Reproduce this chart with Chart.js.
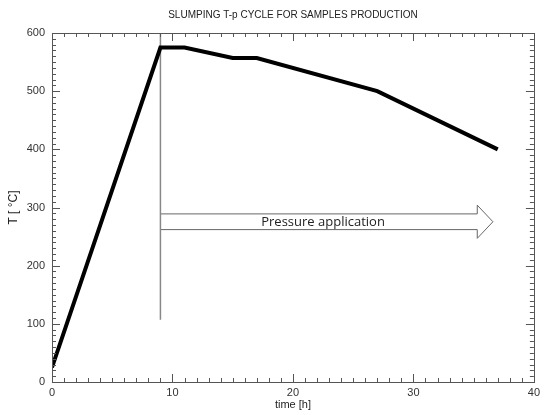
<!DOCTYPE html>
<html>
<head>
<meta charset="utf-8">
<script src="https://cdn.jsdelivr.net/npm/chart.js@4.4.1/dist/chart.umd.min.js"></script>
<style>
html,body{margin:0;padding:0;background:#fff;}
#wrap{width:544px;height:415px;position:relative;}
</style>
</head>
<body>
<div id="wrap"><canvas id="c" width="544" height="415"></canvas></div>
<script>
// ---- data ----
const timeH = [0, 9, 11, 15, 17, 27, 37];
const tempC = [25, 575, 575, 557, 557, 500, 400];
const pressureLineX = [9, 9];
const pressureLineY = [600, 107];
const arrowX = [9, 35.3, 35.3, 36.6, 35.3, 35.3, 9];
const arrowY = [289, 289, 304, 275.5, 247, 262, 262];
const arrowLabel = "Pressure application";
const arrowLabelPos = [22.5, 275];
const xTickLabels = [0, 10, 20, 30, 40];
const yTickLabels = [0, 100, 200, 300, 400, 500, 600];
const chartTitle = "SLUMPING T-p CYCLE FOR SAMPLES PRODUCTION";
const xTitle = "time [h]";
const yTitle = "T [ \u00B0C]";

const decor = {
  id: 'decor',
  beforeDatasetsDraw(chart) {
    const {ctx, chartArea: a, scales: {x, y}} = chart;
    ctx.save();
    // arrow (hollow)
    ctx.beginPath();
    arrowX.forEach((v, i) => {
      const px = x.getPixelForValue(v), py = y.getPixelForValue(arrowY[i]);
      if (i === 0) ctx.moveTo(px, py); else ctx.lineTo(px, py);
    });
    ctx.fillStyle = '#fff';
    ctx.fill();
    ctx.strokeStyle = '#666';
    ctx.lineWidth = 1;
    ctx.stroke();
    ctx.fillStyle = '#222';
    ctx.font = '13px "Open Sans", "Liberation Sans", sans-serif';
    ctx.textAlign = 'center';
    ctx.textBaseline = 'middle';
    ctx.fillText(arrowLabel, x.getPixelForValue(arrowLabelPos[0]), y.getPixelForValue(arrowLabelPos[1]));
    ctx.restore();
  },
  afterDraw(chart) {
    const {ctx, chartArea: a, scales: {x, y}} = chart;
    ctx.save();
    ctx.strokeStyle = '#555';
    ctx.lineWidth = 1;
    // box
    ctx.strokeRect(Math.round(a.left) + 0.5, Math.round(a.top) + 0.5, Math.round(a.right - a.left), Math.round(a.bottom - a.top));
    // x ticks (bottom and top)
    for (let v = 0; v <= 40; v += 1) {
      const px = Math.round(x.getPixelForValue(v)) + 0.5;
      const len = v % 10 === 0 ? 8 : 4;
      ctx.beginPath();
      ctx.moveTo(px, a.bottom); ctx.lineTo(px, a.bottom - len);
      ctx.moveTo(px, a.top); ctx.lineTo(px, a.top + len);
      ctx.stroke();
    }
    for (let v = 0; v <= 600; v += 10) {
      const py = Math.round(y.getPixelForValue(v)) + 0.5;
      const len = v % 100 === 0 ? 8 : 4;
      ctx.beginPath();
      ctx.moveTo(a.left, py); ctx.lineTo(a.left + len, py);
      ctx.moveTo(a.right, py); ctx.lineTo(a.right - len, py);
      ctx.stroke();
    }
    // titles
    ctx.fillStyle = '#222';
    ctx.font = '10px "Liberation Sans", Arial, sans-serif';
    ctx.textAlign = 'center';
    ctx.textBaseline = 'middle';
    ctx.fillText(chartTitle, (a.left + a.right) / 2, 15);
    ctx.font = '11px "Liberation Sans", Arial, sans-serif';
    ctx.fillText(xTitle, (a.left + a.right) / 2, 405);
    ctx.translate(14, (a.top + a.bottom) / 2);
    ctx.rotate(-Math.PI / 2);
    ctx.font = '12px "Liberation Sans", Arial, sans-serif';
    ctx.fillText(yTitle, 0, 0);
    ctx.restore();
  }
};

new Chart(document.getElementById('c'), {
  type: 'scatter',
  data: {
    datasets: [
      {
        data: pressureLineX.map((v, i) => ({x: v, y: pressureLineY[i]})),
        showLine: true, borderColor: '#888', borderWidth: 1.5, pointRadius: 0, order: 2
      },
      {
        data: timeH.map((v, i) => ({x: v, y: tempC[i]})),
        showLine: true, borderColor: '#000', borderWidth: 4, pointRadius: 0,
        borderJoinStyle: 'miter', order: 1
      }
    ]
  },
  options: {
    responsive: false,
    animation: false,
    devicePixelRatio: 1,
    layout: {padding: {top: 33, right: 0, left: 0, bottom: 0}},
    plugins: {legend: {display: false}, tooltip: {enabled: false}, title: {display: false}},
    scales: {
      x: {
        type: 'linear', min: 0, max: 40,
        afterBuildTicks: s => { s.ticks = xTickLabels.map(v => ({value: v})); },
        afterFit: s => { s.height = 33; },
        grid: {display: false, drawTicks: false}, border: {display: false},
        ticks: {font: {family: '"Liberation Sans", Arial, sans-serif', size: 11}, color: '#333', padding: 4, maxRotation: 0}
      },
      y: {
        type: 'linear', min: 0, max: 600,
        afterBuildTicks: s => { s.ticks = yTickLabels.map(v => ({value: v})); },
        afterFit: s => { s.width = 52; },
        grid: {display: false, drawTicks: false}, border: {display: false},
        ticks: {font: {family: '"Liberation Sans", Arial, sans-serif', size: 11}, color: '#333', padding: 7}
      }
    }
  },
  plugins: [decor]
});
</script>
</body>
</html>
